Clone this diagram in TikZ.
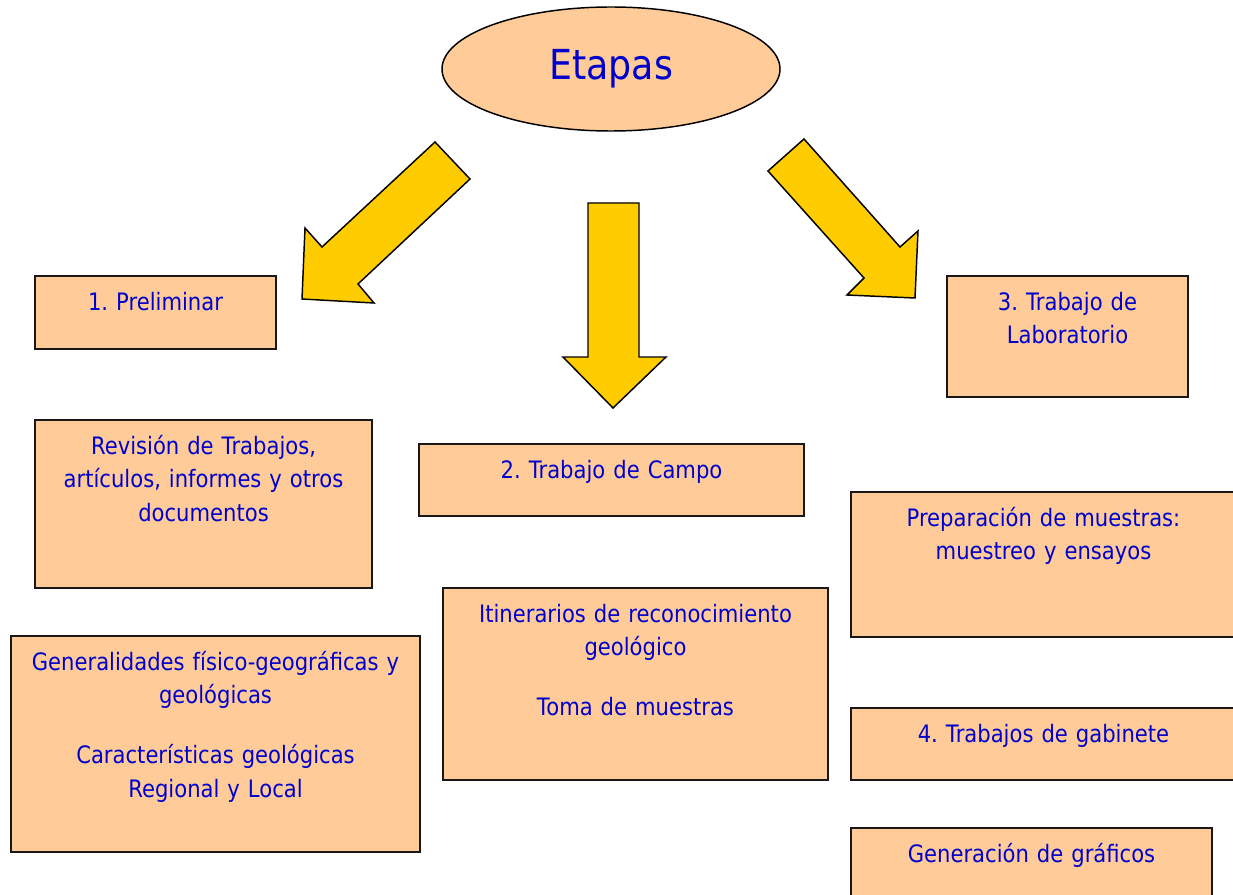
\documentclass[tikz,border=0pt]{standalone}
\usepackage{fontspec}
\setmainfont{DejaVu Sans}[FakeStretch=0.88]
\usetikzlibrary{shapes.geometric}
\definecolor{peach}{HTML}{FFCC99}
\definecolor{arrowyellow}{HTML}{FFCC00}
\definecolor{stageblue}{HTML}{0000CC}
\newdimen\pxu
\pxu=0.75pt
\frenchspacing

\begin{document}
\begin{tikzpicture}[x=0.75pt, y=-0.75pt,
    stage/.style={rectangle, draw=black!90, line width=1.5pt, fill=peach, text=stageblue,
      anchor=north west, inner sep=0pt, align=center, text height=34.5\pxu,
      font=\fontsize{18}{25.1}\selectfont},
    bigarrow/.style={draw=black, line width=1.1pt, fill=arrowyellow}]
  \clip (0,0) rectangle (1233,895);

  \node (etapas) [ellipse, draw=black, line width=1.1pt, fill=peach, text=stageblue,
    minimum width=338\pxu, minimum height=124\pxu, inner sep=0pt,
    font=\fontsize{31}{36}\selectfont] at (611,69) {Etapas};

  % yellow block arrows
  \draw[bigarrow] (435,142) -- (470,179) -- (358,284) -- (374,303) -- (302,299)
    -- (305,228) -- (322,247) -- cycle;
  \draw[bigarrow] (588,203) -- (639,203) -- (639,357) -- (666,357) -- (613,408)
    -- (563,357) -- (588,357) -- cycle;
  \draw[bigarrow] (804,139) -- (768,171) -- (864,278) -- (847,295) -- (915,298)
    -- (918,231) -- (900,247) -- cycle;

  % left column
  \node (prelim) [stage, text width=241\pxu, text depth=38.5\pxu] at (34,275) {1. Preliminar};
  \node (revision) [stage, text width=337\pxu, text depth=133.5\pxu] at (34,419) {
    Revisión de Trabajos,\\
    artículos, informes y otros\\
    documentos};
  \node (generalidades) [stage, text width=409\pxu, text depth=181.5\pxu] at (10,635) {
    Generalidades físico-geográficas y\\
    geológicas\\[26.5\pxu]
    Características geológicas\\
    Regional y Local};

  % middle column
  \node (campo) [stage, text width=385\pxu, text depth=37.5\pxu] at (418,443) {2. Trabajo de Campo};
  \node (itinerarios) [stage, text width=385\pxu, text depth=157.5\pxu] at (442,587) {
    Itinerarios de reconocimiento\\
    geológico\\[26.5\pxu]
    Toma de muestras};

  % right column
  \node (laboratorio) [stage, text width=241\pxu, text depth=86.5\pxu] at (946,275) {
    3. Trabajo de\\
    Laboratorio};
  \node (preparacion) [stage, text width=385\pxu, text depth=110.5\pxu] at (850,491) {
    Preparación de muestras:\\
    muestreo y ensayos};
  \node (gabinete) [stage, text width=385\pxu, text depth=37.5\pxu] at (850,707) {4. Trabajos de gabinete};
  \node (graficos) [stage, text width=361\pxu, text depth=45.5\pxu] at (850,827) {Generación de gráficos};
\end{tikzpicture}
\end{document}
